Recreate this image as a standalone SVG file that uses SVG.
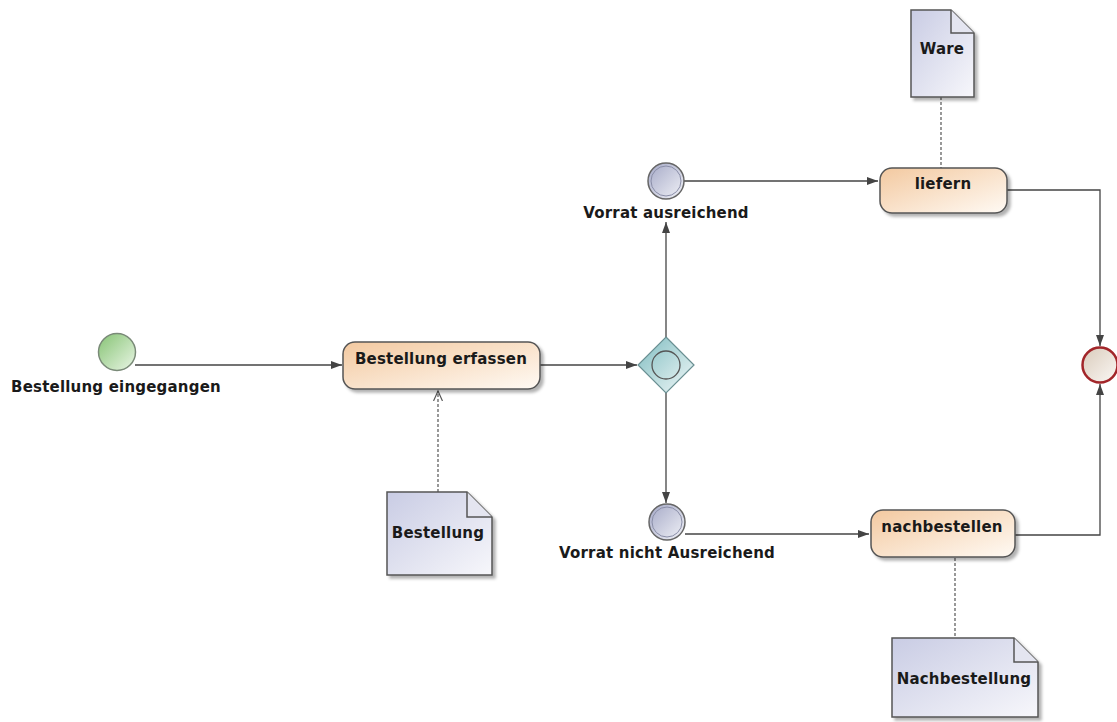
<svg xmlns="http://www.w3.org/2000/svg" width="1117" height="722" viewBox="0 0 1117 722">
  <style>
    text { font-family: "DejaVu Sans", "Liberation Sans", sans-serif; font-weight: bold; font-size: 15px; letter-spacing: 0.2px; fill: #1a1a1a; text-anchor: middle; }
    .task { fill: url(#gTask); stroke: #555; stroke-width: 1.5; filter: url(#shadow); }
    .doc { fill: url(#gDoc); stroke: #555; stroke-width: 1.5; filter: url(#shadow); }
    .fold { fill: #e4e5f0; stroke: #555; stroke-width: 1.5; }
    .flow { fill: none; stroke: #444; stroke-width: 1.3; }
    .assoc { fill: none; stroke: #555; stroke-width: 1.2; stroke-dasharray: 3 2; }
    .evt { fill: url(#gEvt); stroke: #666; stroke-width: 1.5; }
  </style>
  <defs>
    <linearGradient id="gTask" x1="0" y1="0" x2="1" y2="1">
      <stop offset="0" stop-color="#f3c9a0"/>
      <stop offset="1" stop-color="#fffaf4"/>
    </linearGradient>
    <linearGradient id="gDoc" x1="0" y1="0" x2="1" y2="1">
      <stop offset="0" stop-color="#c9cce4"/>
      <stop offset="1" stop-color="#f7f7fb"/>
    </linearGradient>
    <linearGradient id="gEvt" x1="0" y1="0" x2="1" y2="1">
      <stop offset="0" stop-color="#a4a8c6"/>
      <stop offset="1" stop-color="#f2f3f8"/>
    </linearGradient>
    <linearGradient id="gStart" x1="0" y1="0" x2="1" y2="1">
      <stop offset="0" stop-color="#86c374"/>
      <stop offset="1" stop-color="#eaf6e6"/>
    </linearGradient>
    <linearGradient id="gGate" x1="0" y1="0" x2="1" y2="1">
      <stop offset="0" stop-color="#7fbcc0"/>
      <stop offset="1" stop-color="#f2f9f9"/>
    </linearGradient>
    <linearGradient id="gEnd" x1="0" y1="0" x2="1" y2="1">
      <stop offset="0" stop-color="#d9cbbb"/>
      <stop offset="1" stop-color="#fbf8f5"/>
    </linearGradient>
    <filter id="shadow" x="-10%" y="-10%" width="130%" height="130%">
      <feDropShadow dx="3" dy="3" stdDeviation="1.5" flood-color="#000" flood-opacity="0.3"/>
    </filter>
    <marker id="arrow" markerWidth="12" markerHeight="10" refX="11" refY="5" orient="auto" markerUnits="userSpaceOnUse">
      <path d="M0,1 L11,5 L0,9 Z" fill="#444"/>
    </marker>
    <marker id="open" markerWidth="12" markerHeight="10" refX="10" refY="5" orient="auto" markerUnits="userSpaceOnUse">
      <path d="M0,0.5 L10,5 L0,9.5" fill="none" stroke="#555" stroke-width="1.2"/>
    </marker>
  </defs>

  <!-- sequence flows and associations -->
  <g id="connectors">
    <path class="flow" d="M135,365 L342,365" marker-end="url(#arrow)"/>
    <path class="flow" d="M540,365 L637,365" marker-end="url(#arrow)"/>
    <path class="flow" d="M666,337 L666,222" marker-end="url(#arrow)"/>
    <path class="flow" d="M666,393 L666,503" marker-end="url(#arrow)"/>
    <path class="flow" d="M684,181 L878,181" marker-end="url(#arrow)"/>
    <path class="flow" d="M685,534 L869,534" marker-end="url(#arrow)"/>
    <path class="flow" d="M1007,190 L1100,190 L1100,346" marker-end="url(#arrow)"/>
    <path class="flow" d="M1015,535 L1100,535 L1100,384" marker-end="url(#arrow)"/>
    <path class="assoc" d="M438,492 L438,391" marker-end="url(#open)"/>
    <path class="assoc" d="M941,97 L941,168"/>
    <path class="assoc" d="M955,558 L955,637"/>
  </g>

  <!-- start event -->
  <g id="start">
    <circle cx="117" cy="352" r="18.5" fill="url(#gStart)" stroke="#7a8a78" stroke-width="1.5"/>
    <text x="116" y="392">Bestellung eingegangen</text>
  </g>

  <!-- tasks -->
  <g id="task-erfassen">
    <rect class="task" x="343" y="342" width="197" height="47" rx="12"/>
    <text x="441" y="364">Bestellung erfassen</text>
  </g>
  <g id="task-liefern">
    <rect class="task" x="880" y="168" width="127" height="45" rx="12"/>
    <text x="943" y="189">liefern</text>
  </g>
  <g id="task-nachbestellen">
    <rect class="task" x="871" y="510" width="144" height="47" rx="12"/>
    <text x="942" y="532">nachbestellen</text>
  </g>

  <!-- exclusive gateway -->
  <g id="gateway">
    <path d="M666,337 L694,365 L666,393 L638,365 Z" fill="url(#gGate)" stroke="#6a8f92" stroke-width="1.2"/>
    <circle cx="666" cy="365" r="14" fill="none" stroke="#555" stroke-width="1.3"/>
  </g>

  <!-- intermediate events -->
  <g id="evt-ausreichend">
    <circle class="evt" cx="666" cy="181" r="18"/>
    <circle cx="666" cy="181" r="15" fill="none" stroke="#8a8ea8" stroke-width="1"/>
    <text x="666" y="218">Vorrat ausreichend</text>
  </g>
  <g id="evt-nicht-ausreichend">
    <circle class="evt" cx="667" cy="522" r="18"/>
    <circle cx="667" cy="522" r="15" fill="none" stroke="#8a8ea8" stroke-width="1"/>
    <text x="667" y="558">Vorrat nicht Ausreichend</text>
  </g>

  <!-- end event -->
  <g id="end">
    <circle cx="1100" cy="365" r="17.5" fill="url(#gEnd)" stroke="#a2262a" stroke-width="2.5"/>
  </g>

  <!-- data objects -->
  <g id="doc-bestellung">
    <path class="doc" d="M387,492 L467,492 L492,517 L492,575 L387,575 Z"/>
    <path class="fold" d="M467,492 L467,517 L492,517"/>
    <text x="438" y="538">Bestellung</text>
  </g>
  <g id="doc-ware">
    <path class="doc" d="M911,10 L951,10 L974,33 L974,97 L911,97 Z"/>
    <path class="fold" d="M951,10 L951,33 L974,33"/>
    <text x="942" y="54">Ware</text>
  </g>
  <g id="doc-nachbestellung">
    <path class="doc" d="M892,638 L1014,638 L1038,662 L1038,717 L892,717 Z"/>
    <path class="fold" d="M1014,638 L1014,662 L1038,662"/>
    <text x="964" y="684">Nachbestellung</text>
  </g>
</svg>
